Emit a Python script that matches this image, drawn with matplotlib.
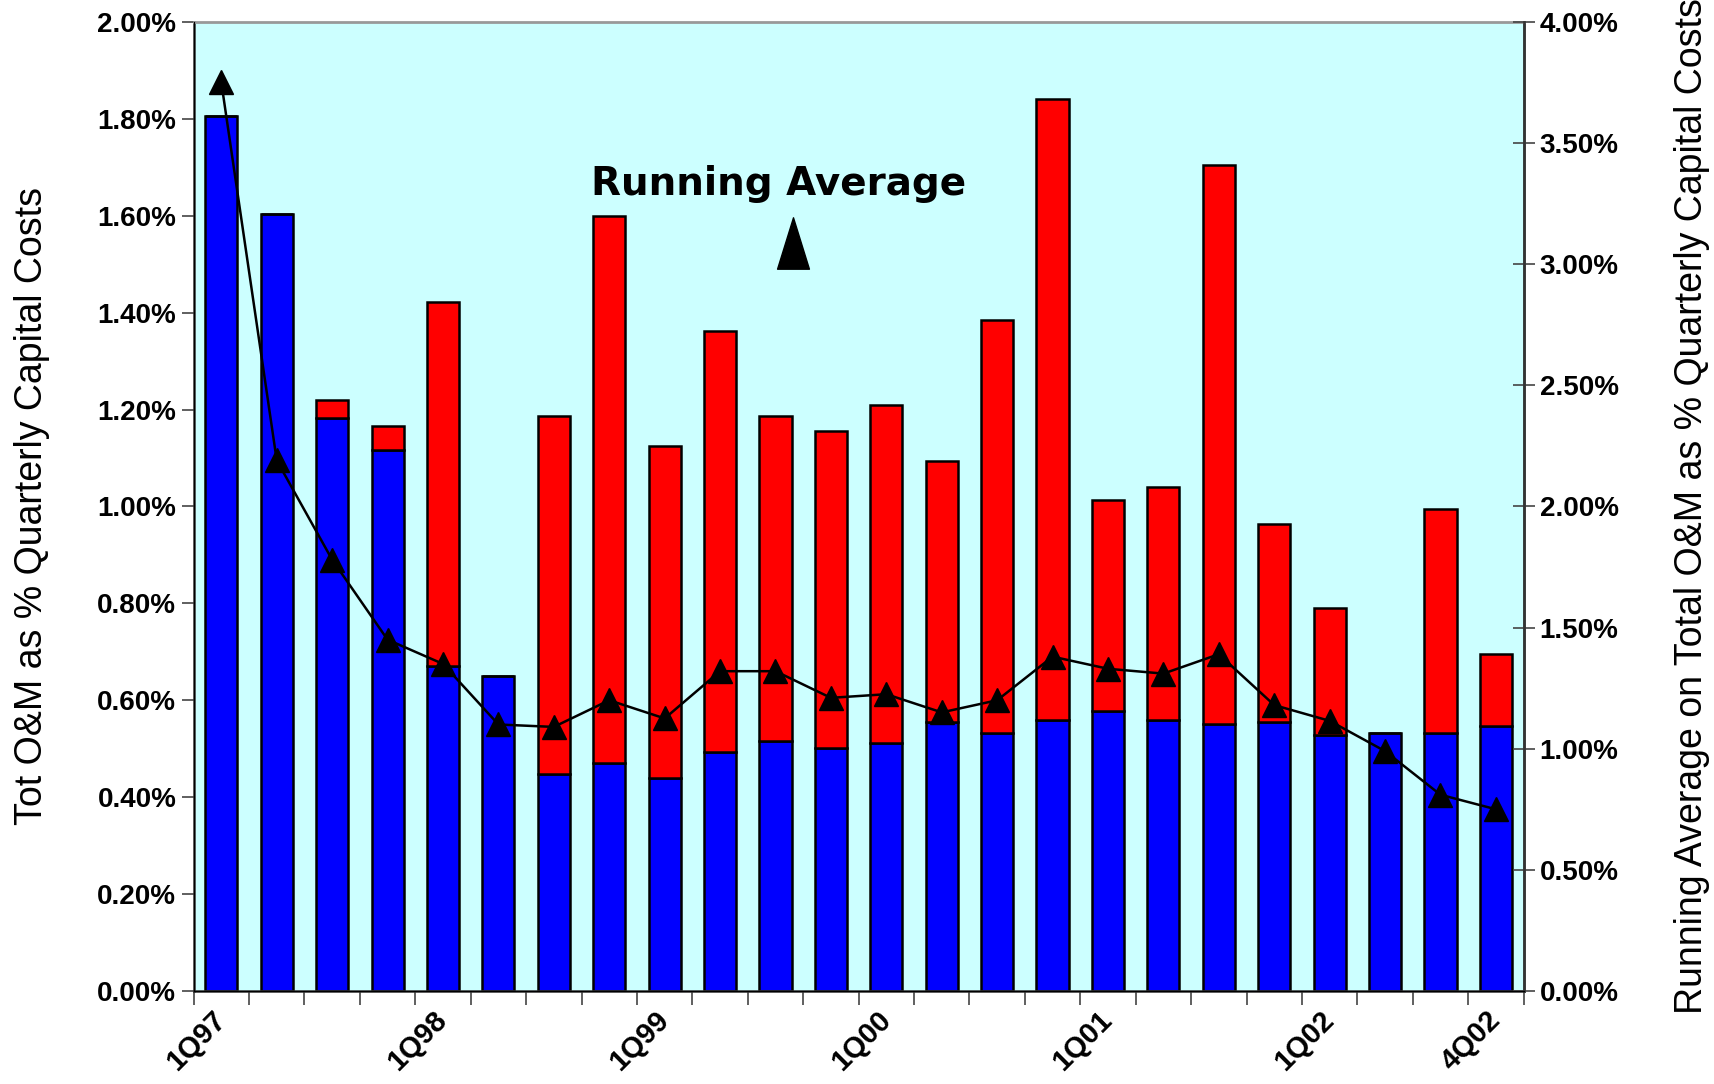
import numpy as np
import matplotlib.pyplot as plt
import matplotlib.transforms as mtransforms
from matplotlib.ticker import FuncFormatter, MultipleLocator
from matplotlib.path import Path

plt.rcParams['font.family'] = ['Liberation Sans', 'DejaVu Sans']

# quarters 1Q97 .. 4Q02
quarters = [f"{q}Q{y:02d}" for y in [97, 98, 99, 0, 1, 2] for q in range(1, 5)]
label_idx = [0, 4, 8, 12, 16, 20, 23]

# O&M as % of quarterly capital cost (left axis)
blue_pct = [1.806, 1.604, 1.183, 1.116, 0.670, 0.650, 0.448, 0.471, 0.439, 0.494, 0.515, 0.502,
            0.511, 0.556, 0.533, 0.559, 0.578, 0.559, 0.551, 0.556, 0.529, 0.533, 0.533, 0.546]
red_pct = [0.0, 0.0, 0.036, 0.049, 0.752, 0.0, 0.739, 1.129, 0.685, 0.869, 0.672, 0.654,
           0.699, 0.537, 0.851, 1.281, 0.435, 0.481, 1.154, 0.407, 0.261, 0.0, 0.462, 0.149]

# running average (right axis)
run_avg = [3.75, 2.19, 1.78, 1.45, 1.35, 1.10, 1.09, 1.20, 1.125, 1.32, 1.32, 1.21,
           1.225, 1.15, 1.20, 1.38, 1.33, 1.31, 1.39, 1.18, 1.115, 0.99, 0.81, 0.75]

x = np.arange(len(quarters))

fig = plt.figure(figsize=(17.15, 10.84), dpi=100)
ax = fig.add_axes([0.1129, 0.0858, 0.7755, 0.894])
ax.set_facecolor('#CCFFFF')

ax.bar(x, blue_pct, width=0.58, color='#0000FF', edgecolor='black', linewidth=1.8, zorder=2)
ax.bar(x, red_pct, width=0.58, bottom=blue_pct, color='#FF0000', edgecolor='black', linewidth=1.8, zorder=2)

ax.set_xlim(-0.5, len(quarters) - 0.5)
ax.set_ylim(0, 2.0)
ax.yaxis.set_major_locator(MultipleLocator(0.2))
ax.yaxis.set_major_formatter(FuncFormatter(lambda v, p: f"{v:.2f}%"))

# tick marks on category boundaries, labels at centres
ax.set_xticks(np.arange(len(quarters) + 1) - 0.5)
ax.set_xticklabels([])
ax.set_xticks(label_idx, minor=True)
ax.set_xticklabels([quarters[i] for i in label_idx], minor=True, rotation=45,
                   ha='right', va='center', rotation_mode='anchor',
                   fontsize=21, fontweight='bold')
shift = mtransforms.ScaledTranslation(-6 / 100, 0, fig.dpi_scale_trans)
for lab in ax.get_xticklabels(minor=True):
    lab.set_transform(lab.get_transform() + shift)
ax.tick_params(axis='x', which='major', direction='out', length=10, width=1.2, color='#444444')
ax.tick_params(axis='x', which='minor', length=0, pad=18)
ax.tick_params(axis='y', direction='out', length=9, width=1.2, labelsize=20, color='#444444')
for lab in ax.get_yticklabels():
    lab.set_fontweight('bold')

ax.set_ylabel("Tot O&M as % Quarterly Capital Costs", fontsize=27, labelpad=34)
for s in ['left', 'bottom', 'right']:
    ax.spines[s].set_color('#333333')
    ax.spines[s].set_linewidth(1.8)
ax.spines['top'].set_color('#999999')
ax.spines['top'].set_linewidth(2)

ax2 = ax.twinx()
ax2.plot(x, run_avg, color='black', linewidth=1.8, marker='^', markersize=17, zorder=3)
ax2.set_ylim(0, 4.0)
ax2.yaxis.set_major_locator(MultipleLocator(0.5))
ax2.yaxis.set_major_formatter(FuncFormatter(lambda v, p: f"{v:.2f}%"))
ax2.tick_params(axis='y', direction='inout', length=16, width=1.2, labelsize=20, color='#444444')
for lab in ax2.get_yticklabels():
    lab.set_fontweight('bold')
ax2.set_ylabel("Running Average on Total O&M as % Quarterly Capital Costs", fontsize=27, labelpad=40)
ax2.spines['right'].set_color('#333333')
ax2.spines['right'].set_linewidth(1.8)
ax2.spines['top'].set_visible(False)

# "Running Average" note with a tall triangle
ax.text(0.44, 0.833, "Running Average", transform=ax.transAxes, ha='center', va='center',
        fontsize=28, fontweight='bold', family=['DejaVu Sans'], zorder=4)
tri = Path([(-0.62, -1), (0.62, -1), (0, 1), (-0.62, -1)],
           [Path.MOVETO, Path.LINETO, Path.LINETO, Path.CLOSEPOLY])
ax.plot([0.451], [0.772], transform=ax.transAxes, marker=tri, markersize=37,
        color='black', linestyle='none', zorder=4)

fig.savefig('out.png', dpi=100)
